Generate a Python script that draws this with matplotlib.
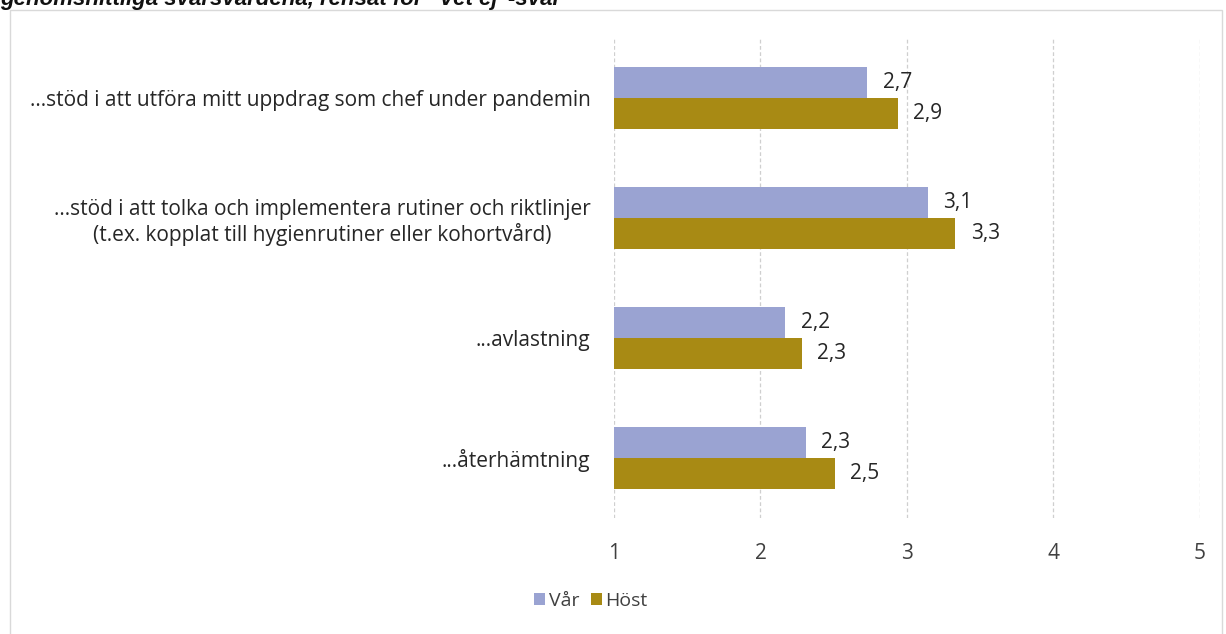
import numpy as np
import matplotlib
matplotlib.use("Agg")
import matplotlib.pyplot as plt
from matplotlib.patches import Rectangle

# ── Data ──────────────────────────────────────────────────────────────────
categories = [
    "...stöd i att utföra mitt uppdrag som chef under pandemin",
    "...stöd i att tolka och implementera rutiner och riktlinjer\n(t.ex. kopplat till hygienrutiner eller kohortvård)",
    "...avlastning",
    "...återhämtning",
]
var_values  = [2.73, 3.14, 2.17, 2.31]
host_values = [2.94, 3.33, 2.28, 2.51]
series_names = ["Vår", "Höst"]
x_ticks = [1, 2, 3, 4, 5]
title = "genomsnittliga svarsvärdena, rensat för \"Vet ej\"-svar"

# ── Style ─────────────────────────────────────────────────────────────────
VAR_COLOR  = "#9aa3d2"
HOST_COLOR = "#a88a14"
TEXT_COLOR = "#262626"
FS = 15
BASE = 1  # axis starts at 1

plt.rcParams["font.family"] = ["Open Sans", "DejaVu Sans"]

fig = plt.figure(figsize=(12.26, 6.34), dpi=100)
ax = fig.add_axes([614 / 1226, 1 - 518 / 634, (1200 - 614) / 1226, 480 / 634])

y = np.arange(len(categories))
h = 0.26
var_arr = np.array(var_values)
host_arr = np.array(host_values)

b1 = ax.barh(y - h / 2, var_arr - BASE, left=BASE, height=h,
             color=VAR_COLOR, label=series_names[0], zorder=3)
b2 = ax.barh(y + h / 2, host_arr - BASE, left=BASE, height=h,
             color=HOST_COLOR, label=series_names[1], zorder=3)

for bars, vals in [(b1, var_values), (b2, host_values)]:
    for rect, v in zip(bars, vals):
        ax.annotate(f"{v:.1f}".replace(".", ","),
                    (rect.get_x() + rect.get_width(), rect.get_y() + rect.get_height() / 2),
                    xytext=(11, 0), textcoords="offset points",
                    ha="left", va="center", fontsize=FS, color=TEXT_COLOR)

ax.set_xlim(1, 5)
ax.set_ylim(len(categories) - 0.5, -0.5)
ax.set_xticks(x_ticks)
ax.set_xticklabels([str(t) for t in x_ticks], fontsize=FS, color="#404040")
ax.set_yticks(y)
ax.set_yticklabels(categories, fontsize=FS, color=TEXT_COLOR)
for lab in ax.get_yticklabels():
    lab.set_multialignment("center")
ax.tick_params(axis="x", length=0, pad=18)
ax.tick_params(axis="y", length=0, pad=17)

ax.grid(axis="x", color="#cfcfcf", linewidth=0.9, linestyle=(0, (3, 2)), zorder=0)
for s in ax.spines.values():
    s.set_visible(False)

fig.legend(handles=[b1, b2], labels=series_names, loc="center",
           bbox_to_anchor=(591 / 1226, 1 - 601 / 634), ncol=2, frameon=False,
           fontsize=14, handlelength=0.55, handleheight=0.55,
           handletextpad=0.2, columnspacing=0.6, labelcolor="#404040")

# outer chart frame
fig.patches.append(Rectangle((10 / 1226, -0.01), 1212 / 1226, 1 - 10 / 634 + 0.01,
                             transform=fig.transFigure, fill=False,
                             edgecolor="#d9d9d9", linewidth=1))

# title, cut off at the top edge like the source
fig.text(0.0, 1 - 5 / 634, title, fontsize=16, fontweight="bold", fontstyle="italic",
         family="Liberation Sans", color="#111111", ha="left", va="baseline")

fig.savefig("out.png", dpi=100)
